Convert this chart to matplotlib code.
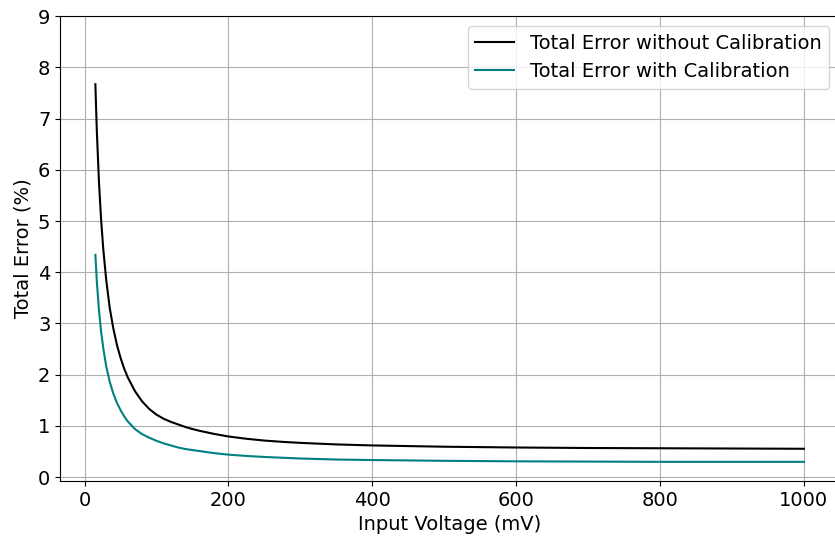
import numpy as np
import matplotlib
matplotlib.use("Agg")
import matplotlib.pyplot as plt

# Input voltage (mV) and total error (%)
voltage = [15, 17, 20, 23, 26, 30, 35, 40, 45, 50, 55, 60, 70, 80, 90, 100,
           110, 120, 130, 140, 150, 160, 180, 200, 225, 250, 275, 300, 350, 400,
           500, 600, 700, 800, 900, 1000]
err_no_cal = [7.67, 6.77, 5.76, 5.02, 4.45, 3.86, 3.30, 2.90, 2.58, 2.33, 2.12, 1.95, 1.68, 1.48, 1.33, 1.22,
              1.14, 1.08, 1.03, 0.98, 0.94, 0.905, 0.845, 0.795, 0.75, 0.715, 0.69, 0.67, 0.64, 0.62,
              0.595, 0.58, 0.57, 0.565, 0.56, 0.555]
err_cal = [4.34, 3.83, 3.26, 2.84, 2.52, 2.17, 1.86, 1.63, 1.45, 1.31, 1.19, 1.09, 0.94, 0.84, 0.77, 0.71,
           0.66, 0.62, 0.58, 0.55, 0.53, 0.51, 0.47, 0.44, 0.415, 0.395, 0.38, 0.365, 0.345, 0.335,
           0.32, 0.31, 0.305, 0.30, 0.30, 0.30]

fig = plt.figure(figsize=(8.35, 5.36), dpi=100)
ax = fig.add_axes([0.072, 0.103, 0.933, 0.867])

ax.plot(voltage, err_no_cal, color='black', lw=1.5, label='Total Error without Calibration')
ax.plot(voltage, err_cal, color='#008080', lw=1.5, label='Total Error with Calibration')

ax.set_xlim(-34, 1049)
ax.set_ylim(-0.07, 9)
ax.set_yticks(range(0, 10))
ax.grid(True, color='#b0b0b0', lw=0.8)
ax.tick_params(labelsize=14)
ax.set_xlabel('Input Voltage (mV)', fontsize=14)
ax.set_ylabel('Total Error (%)', fontsize=14)
ax.legend(loc='upper right', fontsize=14)

fig.savefig('out.png', dpi=100)
